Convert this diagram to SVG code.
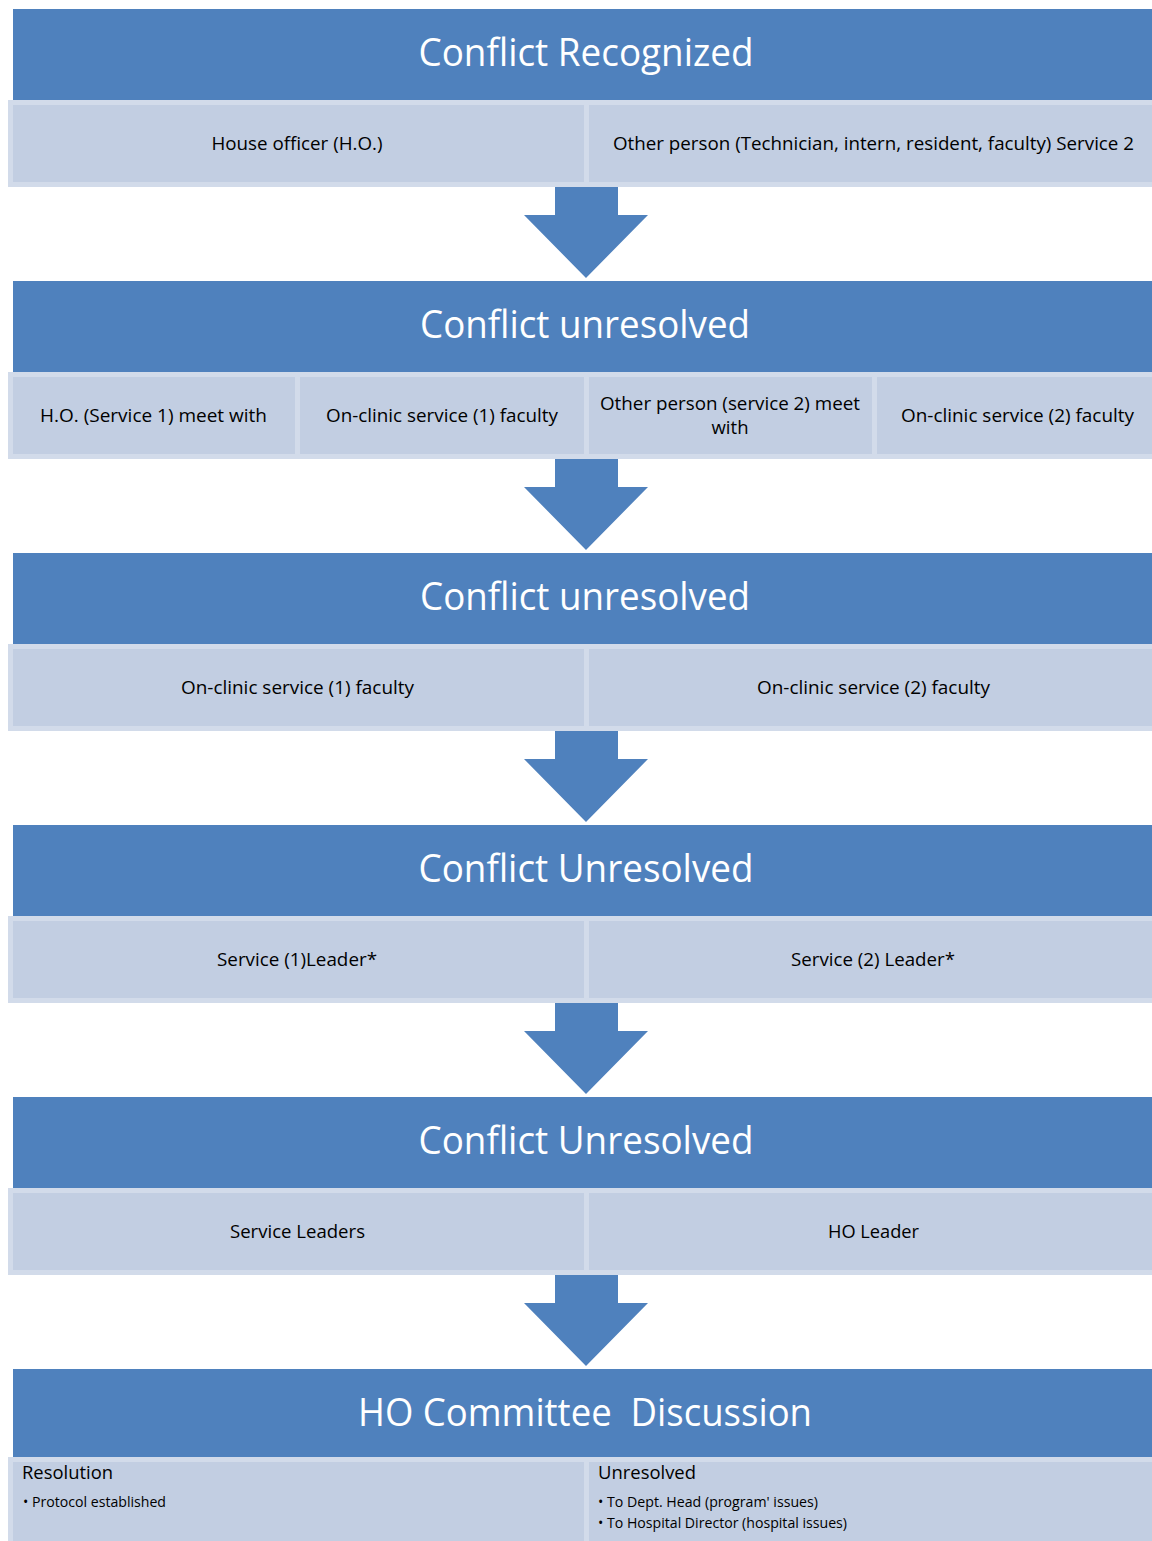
<svg xmlns="http://www.w3.org/2000/svg" width="1152" height="1541" viewBox="0 0 1152 1541">
<defs>
<style>
.hdr{fill:#4f81bd}
.box{fill:#c2cee2;stroke:#d2dbea;stroke-width:5}
.arrow{fill:#4f81bd}
.ht{font-family:"Open Sans","Noto Sans",sans-serif;font-size:38px;fill:#ffffff;text-anchor:middle}
.st{font-family:"Open Sans","Noto Sans",sans-serif;font-size:19px;fill:#000000;text-anchor:middle}
.lt{font-family:"Open Sans","Noto Sans",sans-serif;font-size:19px;fill:#000000}
.bt{font-family:"Open Sans","Noto Sans",sans-serif;font-size:14px;fill:#000000}
</style>
<path id="arr" d="M555 187 H618 V215 H648 L586 278 L524 215 H555 Z"/>
</defs>
<rect width="1152" height="1541" fill="#ffffff"/>

<g id="connectors">
<use href="#arr" class="arrow"/>
<use href="#arr" class="arrow" y="272"/>
<use href="#arr" class="arrow" y="544"/>
<use href="#arr" class="arrow" y="816"/>
<use href="#arr" class="arrow" y="1088"/>
</g>

<g id="stage1">
<rect class="hdr" x="13" y="9" width="1145" height="91"/>
<text class="ht" x="586" y="66" textLength="335" lengthAdjust="spacingAndGlyphs">Conflict Recognized</text>
<g id="stage1-a">
<rect class="box" x="10.5" y="102.5" width="578" height="82"/>
<text class="st" x="297" y="150" textLength="171" lengthAdjust="spacingAndGlyphs">House officer (H.O.)</text>
</g>
<g id="stage1-b">
<rect class="box" x="586.5" y="102.5" width="575" height="82"/>
<text class="st" x="873.5" y="150" textLength="521" lengthAdjust="spacingAndGlyphs">Other person (Technician, intern, resident, faculty) Service 2</text>
</g>
</g>

<g id="stage2">
<rect class="hdr" x="13" y="281" width="1145" height="91"/>
<text class="ht" x="585" y="338" textLength="330" lengthAdjust="spacingAndGlyphs">Conflict unresolved</text>
<g id="stage2-a">
<rect class="box" x="10.5" y="374.5" width="289" height="82"/>
<text class="st" x="153.5" y="422" textLength="227" lengthAdjust="spacingAndGlyphs">H.O. (Service 1) meet with</text>
</g>
<g id="stage2-b">
<rect class="box" x="297.5" y="374.5" width="291" height="82"/>
<text class="st" x="442" y="422" textLength="232" lengthAdjust="spacingAndGlyphs">On-clinic service (1) faculty</text>
</g>
<g id="stage2-c">
<rect class="box" x="586.5" y="374.5" width="290" height="82"/>
<text class="st" x="730" y="410" textLength="260" lengthAdjust="spacingAndGlyphs">Other person (service 2) meet</text>
<text class="st" x="730" y="434" textLength="37" lengthAdjust="spacingAndGlyphs">with</text>
</g>
<g id="stage2-d">
<rect class="box" x="874.5" y="374.5" width="287" height="82"/>
<text class="st" x="1017.5" y="422" textLength="233" lengthAdjust="spacingAndGlyphs">On-clinic service (2) faculty</text>
</g>
</g>

<g id="stage3">
<rect class="hdr" x="13" y="553" width="1145" height="91"/>
<text class="ht" x="585" y="610" textLength="330" lengthAdjust="spacingAndGlyphs">Conflict unresolved</text>
<g id="stage3-a">
<rect class="box" x="10.5" y="646.5" width="578" height="82"/>
<text class="st" x="297.5" y="694" textLength="233" lengthAdjust="spacingAndGlyphs">On-clinic service (1) faculty</text>
</g>
<g id="stage3-b">
<rect class="box" x="586.5" y="646.5" width="575" height="82"/>
<text class="st" x="873.5" y="694" textLength="233" lengthAdjust="spacingAndGlyphs">On-clinic service (2) faculty</text>
</g>
</g>

<g id="stage4">
<rect class="hdr" x="13" y="825" width="1145" height="91"/>
<text class="ht" x="586" y="882" textLength="335" lengthAdjust="spacingAndGlyphs">Conflict Unresolved</text>
<g id="stage4-a">
<rect class="box" x="10.5" y="918.5" width="578" height="82"/>
<text class="st" x="297" y="966" textLength="160" lengthAdjust="spacingAndGlyphs">Service (1)Leader*</text>
</g>
<g id="stage4-b">
<rect class="box" x="586.5" y="918.5" width="575" height="82"/>
<text class="st" x="873" y="966" textLength="164" lengthAdjust="spacingAndGlyphs">Service (2) Leader*</text>
</g>
</g>

<g id="stage5">
<rect class="hdr" x="13" y="1097" width="1145" height="91"/>
<text class="ht" x="586" y="1154" textLength="335" lengthAdjust="spacingAndGlyphs">Conflict Unresolved</text>
<g id="stage5-a">
<rect class="box" x="10.5" y="1190.5" width="578" height="82"/>
<text class="st" x="297.5" y="1238" textLength="135" lengthAdjust="spacingAndGlyphs">Service Leaders</text>
</g>
<g id="stage5-b">
<rect class="box" x="586.5" y="1190.5" width="575" height="82"/>
<text class="st" x="873.5" y="1238" textLength="91" lengthAdjust="spacingAndGlyphs">HO Leader</text>
</g>
</g>

<g id="stage6">
<rect class="hdr" x="13" y="1369" width="1145" height="88"/>
<text class="ht" x="585" y="1426" textLength="454" lengthAdjust="spacingAndGlyphs" xml:space="preserve">HO Committee  Discussion</text>
<g id="stage6-a">
<rect class="box" x="10.5" y="1459.5" width="578" height="90"/>
<text class="lt" x="22" y="1479" textLength="91" lengthAdjust="spacingAndGlyphs">Resolution</text>
<text class="bt" x="23" y="1507" textLength="143" lengthAdjust="spacingAndGlyphs">• Protocol established</text>
</g>
<g id="stage6-b">
<rect class="box" x="586.5" y="1459.5" width="575" height="90"/>
<text class="lt" x="598" y="1479" textLength="98" lengthAdjust="spacingAndGlyphs">Unresolved</text>
<text class="bt" x="598" y="1507" textLength="220" lengthAdjust="spacingAndGlyphs">• To Dept. Head (program' issues)</text>
<text class="bt" x="598" y="1528" textLength="249" lengthAdjust="spacingAndGlyphs">• To Hospital Director (hospital issues)</text>
</g>
</g>
</svg>
